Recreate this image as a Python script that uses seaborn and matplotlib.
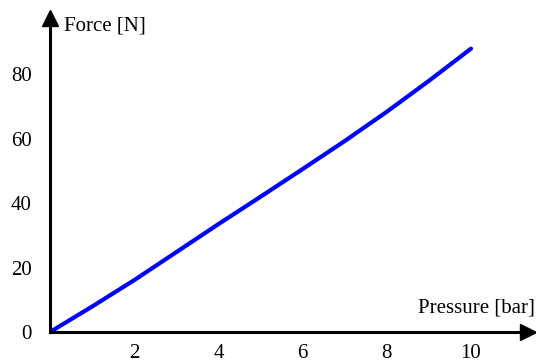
import numpy as np
import seaborn as sns
from matplotlib import pyplot as plt

# data
pressure = [0, 1, 2, 3, 4, 5, 6, 7, 8, 9, 10]
force = [0, 7.9, 16.1, 24.8, 33.5, 42.0, 50.6, 59.3, 68.4, 78.0, 88.0]
x_ticks = [2, 4, 6, 8, 10]
y_ticks = [0, 20, 40, 60, 80]

sns.set_theme(style='white')
plt.rcParams['font.family'] = ['Liberation Serif', 'DejaVu Serif']
plt.rcParams['text.color'] = 'black'

W, H = 536, 363
fig = plt.figure(figsize=(W / 100, H / 100), dpi=100)
# axes box in pixel terms: origin at (50, 332), arrows end at the figure edge
left, bottom, right, top = 50, 332, 528, 18
ax = fig.add_axes([left / W, 1 - bottom / H, (right - left) / W, (bottom - top) / H])

px_per_x = 42.1
px_per_y = 3.22
ax.set_xlim(0, (right - left) / px_per_x)
ax.set_ylim(0, (bottom - top) / px_per_y)

sns.lineplot(x=pressure, y=force, color='#0000ff', linewidth=3, ax=ax)

for s in ['top', 'right']:
    ax.spines[s].set_visible(False)
for s in ['left', 'bottom']:
    ax.spines[s].set_linewidth(2.2)
    ax.spines[s].set_color('black')

# arrow heads
ax.plot(1, 0, '>', color='black', ms=11, transform=ax.get_yaxis_transform(), clip_on=False)
ax.plot(0, 1, '^', color='black', ms=11, transform=ax.get_xaxis_transform(), clip_on=False)

ax.set_xticks(x_ticks)
ax.set_yticks(y_ticks)
ax.tick_params(direction='in', length=7.5, width=1.5, color='black',
               labelsize=15, labelcolor='black', pad=13)
ax.tick_params(axis='x', pad=8.5)

fig.text(535 / W, 1 - 312 / H, 'Pressure [bar]', ha='right', va='baseline', fontsize=15)
fig.text(64 / W, 1 - 31 / H, 'Force [N]', ha='left', va='baseline', fontsize=15)

fig.savefig('out.png', dpi=100)
